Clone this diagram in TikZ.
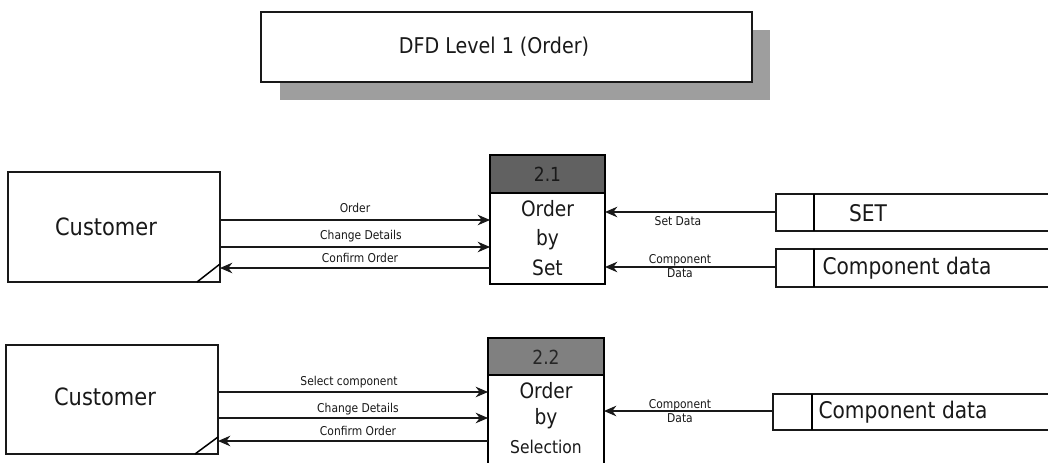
\documentclass[tikz,border=0pt]{standalone}
\usepackage{fontspec}
\setmainfont{DejaVu Sans}[FakeStretch=0.88]
\usetikzlibrary{arrows.meta}
\newcommand\pxu{0.567pt}
\begin{document}
\begin{tikzpicture}[x=0.567pt,y=-0.567pt,line width=0.85pt,
  every node/.style={text=black!90},
  box/.style={draw=black!90,inner sep=0pt,outer sep=0pt},
  flow/.style={draw=black!90,line width=0.75pt,-{Stealth[length=7pt,width=6pt]}},
  lbl/.style={font=\fontsize{6.9}{8}\selectfont,inner sep=0pt,align=center},
  big/.style={font=\fontsize{12}{16.7}\selectfont,align=center},
  cust/.style={font=\fontsize{13.5}{15}\selectfont},
  store/.style={font=\fontsize{13}{15}\selectfont,inner sep=0pt}]
\useasboundingbox (0,0) rectangle (1048,463);
\clip (0,0) rectangle (1048,463);
\fill[white] (0,0) rectangle (1048,463);

% title
\fill[black!38] (280,30) rectangle (770,100);
\node[box,fill=white,minimum width=491*\pxu,minimum height=70*\pxu] (title) at (506.5,47) {};
\node[font=\fontsize{12.3}{14}\selectfont] (titlet) at (494,47) {DFD Level 1 (Order)};

% ---------- upper part ----------
\node[box,minimum width=212*\pxu,minimum height=110*\pxu] (c1) at (114,227) {};
\node[cust] (c1t) at (106,227) {Customer};
\draw ([xshift=-23*\pxu]c1.south east) -- ([yshift=18*\pxu]c1.south east);

\node[box,minimum width=115*\pxu,minimum height=129*\pxu] (p1) at (547.5,219.5) {};
\fill[black!62] (p1.north west) rectangle ([yshift=-38*\pxu]p1.north east);
\draw ([yshift=-38*\pxu]p1.north west) -- ([yshift=-38*\pxu]p1.north east);
\draw (p1.north west) rectangle (p1.south east);
\node[font=\fontsize{11}{13}\selectfont,text=black!90] (p1n) at (547.5,174) {2.1};
\node[big] (p1t) at (547.5,238) {Order\\by\\Set};

\node[box,minimum width=300*\pxu,minimum height=37*\pxu,anchor=west] (s1) at (776,212.5) {};
\draw ([xshift=38*\pxu]s1.north west) -- ([xshift=38*\pxu]s1.south west);
\node[store] (s1t) at (868,213) {SET};

\node[box,minimum width=300*\pxu,minimum height=38*\pxu,anchor=west] (s2) at (776,268) {};
\draw ([xshift=38*\pxu]s2.north west) -- ([xshift=38*\pxu]s2.south west);
\node[store] (s2t) at (907,268) {Component data};

\coordinate (a1) at (0,220);
\coordinate (a2) at (0,247);
\coordinate (a3) at (0,268);
\draw[flow] (c1.east |- a1) -- (p1.west |- a1);
\draw[flow] (c1.east |- a2) -- (p1.west |- a2);
\draw[flow] (p1.west |- a3) -- (c1.east |- a3);
\node[lbl] at (355,208) {Order};
\node[lbl] at (361,236) {Change Details};
\node[lbl] at (360,258) {Confirm Order};

\draw[flow] (s1.west |- 0,212) -- (p1.east |- 0,212);
\node[lbl] at (678,221) {Set Data};
\draw[flow] (s2.west |- 0,267) -- (p1.east |- 0,267);
\node[lbl] at (680,266.5) {Component\\Data};

% ---------- lower part ----------
\node[box,minimum width=212*\pxu,minimum height=109*\pxu] (c2) at (112,399.5) {};
\node[cust] (c2t) at (105,397) {Customer};
\draw ([xshift=-23*\pxu]c2.south east) -- ([yshift=17*\pxu]c2.south east);

\node[box,minimum width=116*\pxu,minimum height=140*\pxu] (p2) at (546,408) {};
\fill[black!50] (p2.north west) rectangle ([yshift=-37*\pxu]p2.north east);
\draw ([yshift=-37*\pxu]p2.north west) -- ([yshift=-37*\pxu]p2.north east);
\draw (p2.north west) rectangle (p2.south east);
\node[font=\fontsize{11}{13}\selectfont,text=black!85] (p2n) at (546,357) {2.2};
\node[big] (p2t) at (546,391) {Order};
\node[big] (p2b) at (546,419) {by};
\node[big,font=\fontsize{10}{12}\selectfont] (p2s) at (546,447) {Selection};

\node[box,minimum width=300*\pxu,minimum height=36*\pxu,anchor=west] (s3) at (773,412) {};
\draw ([xshift=39*\pxu]s3.north west) -- ([xshift=39*\pxu]s3.south west);
\node[store] (s3t) at (903,412) {Component data};

\coordinate (b1) at (0,392);
\coordinate (b2) at (0,418);
\coordinate (b3) at (0,441);
\draw[flow] (c2.east |- b1) -- (p2.west |- b1);
\draw[flow] (c2.east |- b2) -- (p2.west |- b2);
\draw[flow] (p2.west |- b3) -- (c2.east |- b3);
\node[lbl] at (349,382) {Select component};
\node[lbl] at (358,409) {Change Details};
\node[lbl] at (358,431) {Confirm Order};

\draw[flow] (s3.west |- 0,411) -- (p2.east |- 0,411);
\node[lbl] at (680,411) {Component\\Data};
\end{tikzpicture}
\end{document}
